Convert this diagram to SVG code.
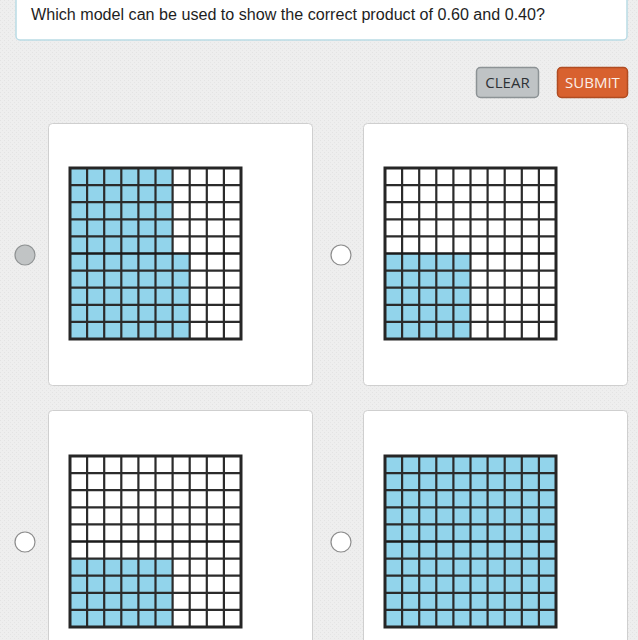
<svg xmlns="http://www.w3.org/2000/svg" width="638" height="640" viewBox="0 0 638 640">
<style>
.card{fill:#fff;stroke:#cfcfcf;stroke-width:1}
.blue{fill:#92d4eb}
.gl{stroke:#2b2b2b;stroke-width:2.2;fill:none}
.go{stroke:#262626;stroke-width:3;fill:none}
.radio{fill:#fff;stroke:#8d8d8d;stroke-width:1.2}
.btxt{font-family:"Open Sans","Noto Sans",sans-serif;font-size:15px;text-anchor:middle}
</style>
<defs>
<pattern id="tex" width="4" height="4" patternUnits="userSpaceOnUse">
<rect width="4" height="4" fill="#eeeeee"/>
<rect width="1" height="1" fill="#e3e3e3"/>
<rect x="2" y="2" width="1" height="1" fill="#e5e5e5"/>
</pattern>
<g id="gridlines">
<path class="gl" d="M17.1 0V171M34.2 0V171M51.3 0V171M68.4 0V171M85.5 0V171M102.6 0V171M119.7 0V171M136.8 0V171M153.9 0V171M0 17.1H171M0 34.2H171M0 51.3H171M0 68.4H171M0 102.6H171M0 119.7H171M0 136.8H171M0 153.9H171"/>
<path d="M0 85.5H171" stroke="#1a1a1a" stroke-width="2.5"/>
<rect class="go" x="0" y="0" width="171" height="171"/>
</g>
</defs>
<rect width="638" height="640" fill="url(#tex)"/>
<g id="question">
<rect x="16" y="-10" width="611" height="50" rx="4" fill="#fff" stroke="#b9dbe5" stroke-width="1.5"/>
<text x="31" y="20" font-family="Liberation Sans,Arial,sans-serif" font-size="16" fill="#1e1e1e" textLength="514" lengthAdjust="spacingAndGlyphs">Which model can be used to show the correct product of 0.60 and 0.40?</text>
</g>
<g id="clear">
<rect x="476.5" y="67.5" width="62" height="30" rx="4" fill="#bfc3c5" stroke="#8c9295" stroke-width="1.5"/>
<text class="btxt" x="507.5" y="88" fill="#2e3235">CLEAR</text>
</g>
<g id="submit">
<rect x="557.5" y="67.5" width="70" height="30" rx="4" fill="#d8612f" stroke="#b04c22" stroke-width="1.5"/>
<text class="btxt" x="592.5" y="88" fill="#fbeee8">SUBMIT</text>
</g>
<g id="optionA">
<rect class="card" x="48.5" y="123.5" width="264" height="262" rx="4"/>
<circle cx="25" cy="255" r="10" fill="#c1c4c5" stroke="#8f9293" stroke-width="1.2"/>
<g transform="translate(70,168)">
<rect class="blue" x="0" y="0" width="102.6" height="85.5"/>
<rect class="blue" x="0" y="85.5" width="119.7" height="85.5"/>
<use href="#gridlines"/>
</g>
</g>
<g id="optionB">
<rect class="card" x="363.5" y="123.5" width="264" height="262" rx="4"/>
<circle class="radio" cx="341" cy="255" r="10"/>
<g transform="translate(385,168)">
<rect class="blue" x="0" y="85.5" width="85.5" height="85.5"/>
<use href="#gridlines"/>
</g>
</g>
<g id="optionC">
<rect class="card" x="48.5" y="410.5" width="264" height="262" rx="4"/>
<circle class="radio" cx="25" cy="542" r="10"/>
<g transform="translate(70,456)">
<rect class="blue" x="0" y="102.6" width="102.6" height="68.4"/>
<use href="#gridlines"/>
</g>
</g>
<g id="optionD">
<rect class="card" x="363.5" y="410.5" width="264" height="262" rx="4"/>
<circle class="radio" cx="341" cy="542" r="10"/>
<g transform="translate(385,456)">
<rect class="blue" x="0" y="0" width="171" height="171"/>
<use href="#gridlines"/>
</g>
</g>
<g id="connectors"/>
</svg>
